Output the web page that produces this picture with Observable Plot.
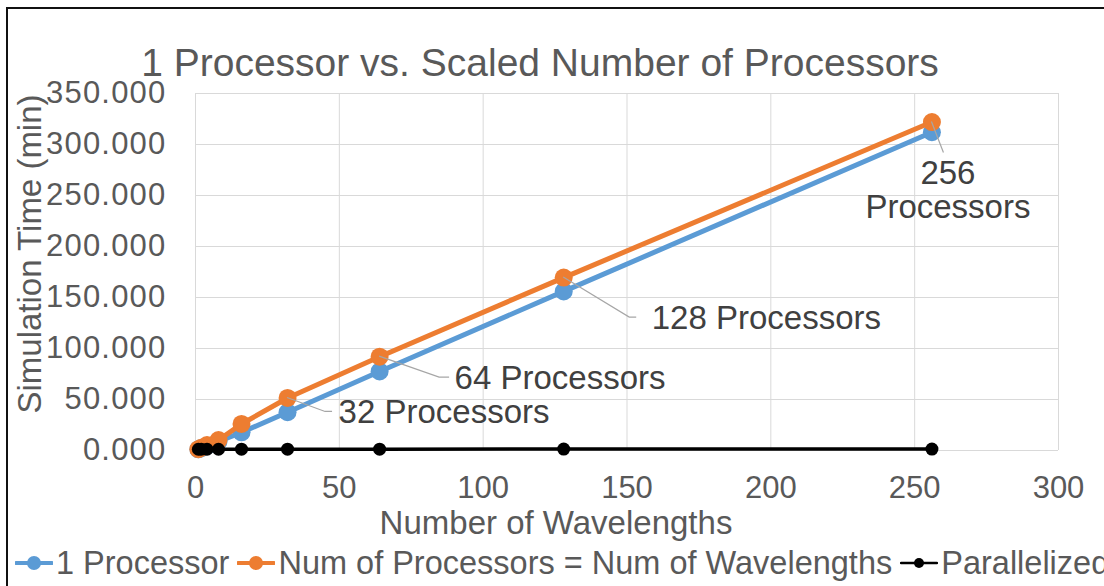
<!DOCTYPE html>
<html>
<head>
<meta charset="utf-8">
<script src="https://cdn.jsdelivr.net/npm/d3@7"></script>
<script src="https://cdn.jsdelivr.net/npm/@observablehq/plot@0.6"></script>
<style>
  html, body { margin: 0; padding: 0; background: #fff; }
  #wrap { position: relative; width: 1104px; height: 586px; overflow: hidden; font-family: "Liberation Sans", Arial, sans-serif; }
  #frame { position: absolute; left: 6px; top: 7px; width: 1200px; height: 700px; border-top: 2px solid #111; border-left: 2px solid #111; box-sizing: border-box; pointer-events: none; }
  #title { position: absolute; left: 0; top: 43px; width: 1080px; text-align: center; font-size: 39px; line-height: 39px; color: #595959; white-space: nowrap; }
  #chart { position: absolute; left: 0; top: 78px; }
  #chart [aria-label^="y-axis"] text { letter-spacing: 1.2px; }
  #legend { position: absolute; left: 15px; top: 540px; height: 46px; display: flex; align-items: center; white-space: nowrap; font-size: 32.5px; color: #595959; }
  .item { display: flex; align-items: center; margin-right: 8px; }
  .item svg { margin-right: 3px; }
</style>
</head>
<body>
<div id="wrap">
  <div id="title"></div>
  <div id="chart"></div>
  <div id="legend"></div>
  <div id="frame"></div>
</div>
<script>
// ---- data ----
const titleText = "1 Processor vs. Scaled Number of Processors";
const xLabel = "Number of Wavelengths";
const yLabel = "Simulation Time (min)";
const wavelengths = [1, 2, 4, 8, 16, 32, 64, 128, 256];
const seriesNames = ["1 Processor", "Num of Processors = Num of Wavelengths", "Parallelized"];
const oneProcessor = [1.2, 2.4, 4.6, 8.8, 17.8, 37.5, 77.5, 156, 312];
const scaledProcessors = [1.3, 2.7, 5.3, 10.2, 26, 51.5, 92, 169.5, 322];
const parallelized = [1.2, 1.2, 1.2, 1.2, 1.3, 1.3, 1.3, 1.4, 1.4];
const xTicks = [0, 50, 100, 150, 200, 250, 300];
const yTicks = [0, 50, 100, 150, 200, 250, 300, 350];
const annoWaves = [32, 64, 128, 256];
const annoTexts = ["32 Processors", "64 Processors", "128 Processors", "256\nProcessors"];

const colors = ["#5B9BD5", "#ED7D31", "#000000"];
const seriesValues = [oneProcessor, scaledProcessors, parallelized];
const tables = seriesValues.map((vals, s) => wavelengths.map((w, i) => ({x: w, y: vals[i], series: seriesNames[s]})));
const annos = annoWaves.map((w, i) => ({x: w, y: scaledProcessors[wavelengths.indexOf(w)], text: annoTexts[i]}));

document.getElementById("title").textContent = titleText;

// label layout (pixel offsets from the annotated point)
const labelLayout = [
  {dx: 51, dy: 14, anchor: "start", leader: [[38, 14], [45, 14]]},
  {dx: 75, dy: 21, anchor: "start", leader: [[60, 21], [70, 21]]},
  {dx: 88, dy: 40, anchor: "start", leader: [[66, 40], [73, 40]]},
  {dx: 16, dy: 68, anchor: "middle", leader: [[12, 31]]}
];

const font = "Liberation Sans, Arial, sans-serif";
const marks = [
  Plot.ruleX(xTicks, {stroke: "#d9d9d9", strokeWidth: 1}),
  Plot.ruleY(yTicks, {stroke: "#d9d9d9", strokeWidth: 1})
];
const widths = [5, 5, 3.5];
const radii = [9, 9, 6.5];
tables.forEach((t, s) => {
  marks.push(Plot.line(t, {x: "x", y: "y", stroke: colors[s], strokeWidth: widths[s], strokeLinejoin: "round", strokeLinecap: "round"}));
  marks.push(Plot.dot(t, {x: "x", y: "y", r: radii[s], fill: colors[s], stroke: "none"}));
});
// leader lines via scales
marks.push((index, scales) => {
  const g = d3.create("svg:g").attr("fill", "none").attr("stroke", "#a6a6a6").attr("stroke-width", 1.2);
  annos.forEach((a, i) => {
    const px = scales.x(a.x), py = scales.y(a.y);
    const pts = [[px, py], ...labelLayout[i].leader.map(([dx, dy]) => [px + dx, py + dy])];
    g.append("polyline").attr("points", pts.map(p => p.join(",")).join(" "));
  });
  return g.node();
});
annos.forEach((a, i) => {
  const L = labelLayout[i];
  marks.push(Plot.text([a], {x: "x", y: "y", text: "text", dx: L.dx, dy: L.dy, textAnchor: L.anchor, lineAnchor: "middle", lineHeight: 1.03, fontSize: 33, fill: "#404040", fontFamily: font}));
});
// axis titles
marks.push(Plot.text([xLabel], {frameAnchor: "bottom", textAnchor: "middle", lineAnchor: "middle", dx: -71, dy: 73, fontSize: 33, fill: "#595959", fontFamily: font}));
marks.push(Plot.text([yLabel], {frameAnchor: "left", textAnchor: "middle", lineAnchor: "middle", rotate: -90, dx: -165, dy: -18, fontSize: 33, fill: "#595959", fontFamily: font}));

const chart = Plot.plot({
  width: 1104,
  height: 462,
  marginTop: 15,
  marginBottom: 90,
  marginLeft: 195,
  marginRight: 46,
  style: {fontSize: "31px", fontFamily: font, color: "#595959", background: "transparent", overflow: "visible"},
  x: {domain: [0, 300], ticks: xTicks, tickSize: 0, tickPadding: 25, label: null, line: false},
  y: {domain: [0, 350], ticks: yTicks, tickSize: 0, tickPadding: 29, label: null, tickFormat: d3.format(".3f"), line: false},
  marks
});
document.getElementById("chart").appendChild(chart);

// legend
const legend = document.getElementById("legend");
seriesNames.forEach((name, s) => {
  const item = document.createElement("div");
  item.className = "item";
  const sw = d3.create("svg").attr("width", 38).attr("height", 20);
  sw.append("line").attr("x1", 1).attr("x2", 37).attr("y1", 10).attr("y2", 10).attr("stroke", colors[s]).attr("stroke-width", s === 2 ? 2.5 : 4).attr("stroke-linecap", "round");
  sw.append("circle").attr("cx", 19).attr("cy", 10).attr("r", s === 2 ? 5 : 7).attr("fill", colors[s]);
  item.appendChild(sw.node());
  const span = document.createElement("span");
  span.textContent = name;
  item.appendChild(span);
  legend.appendChild(item);
});
</script>
</body>
</html>
